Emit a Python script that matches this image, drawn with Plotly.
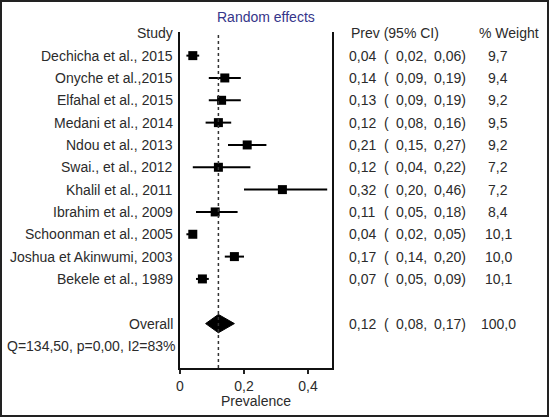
import plotly.graph_objects as go

studies = ["Dechicha et al., 2015", "Onyche et al.,2015", "Elfahal et al., 2015",
           "Medani et al., 2014", "Ndou et al., 2013", "Swai., et al., 2012",
           "Khalil et al., 2011", "Ibrahim et al., 2009", "Schoonman et al., 2005",
           "Joshua et Akinwumi, 2003", "Bekele et al., 1989"]
prev = [0.04, 0.14, 0.13, 0.12, 0.21, 0.12, 0.32, 0.11, 0.04, 0.17, 0.07]
lower = [0.02, 0.09, 0.09, 0.08, 0.15, 0.04, 0.20, 0.05, 0.02, 0.14, 0.05]
upper = [0.06, 0.19, 0.19, 0.16, 0.27, 0.22, 0.46, 0.18, 0.05, 0.20, 0.09]
weight = [9.7, 9.4, 9.2, 9.5, 9.2, 7.2, 7.2, 8.4, 10.1, 10.0, 10.1]

overall_label = "Overall"
overall_prev = 0.12
overall_lower = 0.08
overall_upper = 0.17
overall_weight = 100.0
heterogeneity = "Q=134,50, p=0,00, I2=83%"
x_ticks = [0, 0.2, 0.4]

TXT = "#2b2b2b"
FONT = "Liberation Sans, Arial, sans-serif"

rows = list(range(1, len(studies) + 1))
overall_row = len(studies) + 2
het_row = overall_row + 1

def fmt(v, d=2):
    return f"{v:.{d}f}".replace(".", ",")

fig = go.Figure()

fig.add_trace(go.Scatter(
    x=prev, y=rows, mode="markers",
    marker=dict(symbol="square", size=9, color="black"),
    error_x=dict(type="data", symmetric=False,
                 array=[u - p for u, p in zip(upper, prev)],
                 arrayminus=[p - l for p, l in zip(prev, lower)],
                 thickness=2, width=0, color="black"),
    showlegend=False, hoverinfo="skip"))

h = 0.41
fig.add_trace(go.Scatter(
    x=[overall_lower, overall_prev, overall_upper, overall_prev, overall_lower],
    y=[overall_row, overall_row - h, overall_row, overall_row + h, overall_row],
    mode="lines", fill="toself", fillcolor="black",
    line=dict(color="black", width=1), showlegend=False, hoverinfo="skip"))

# Plot area geometry (pixels): x 180..332, y 32..368
L, R, T, B = 180, 332, 32, 368
W, H = R - L, B - T

def px(p):
    return (p - L) / W

def py(p):
    return (B - p) / H

ann = []
def add(text, x, y, xanchor="left", yref="y", color=TXT, size=14):
    ann.append(dict(text=text, x=x, y=y, xref="paper", yref=yref,
                    xanchor=xanchor, yanchor="middle", showarrow=False,
                    font=dict(family=FONT, size=size, color=color)))

add("Random effects", px(266), py(17.3), "center", yref="paper", color="#35358a")
add("Study", px(175), 0, "right")
add("Prev (95% CI)", px(349), 0, "left")
add("% Weight", px(477), 0, "left")

for i, r in enumerate(rows):
    add(studies[i], px(175), r, "right")
    add(fmt(prev[i]), px(347), r)
    add("(", px(382), r)
    add(fmt(lower[i]) + ",", px(394), r)
    add(fmt(upper[i]) + ")", px(432), r)
    add(fmt(weight[i], 1), px(498), r, "center")

add(overall_label, px(175), overall_row, "right")
add(fmt(overall_prev), px(347), overall_row)
add("(", px(382), overall_row)
add(fmt(overall_lower) + ",", px(394), overall_row)
add(fmt(overall_upper) + ")", px(432), overall_row)
add(fmt(overall_weight, 1), px(498), overall_row, "center")
add(heterogeneity, px(178), het_row, "right")
add("Prevalence", px(256), py(401), "center", yref="paper")

row_px = 22.33
y_top = (T - 33.3) / row_px
y_bot = (B - 33.3) / row_px

shapes = [
    dict(type="line", xref="x", yref="paper", x0=overall_prev, x1=overall_prev,
         y0=0, y1=1, line=dict(color="#333", width=1.5, dash="dot")),
    dict(type="rect", xref="paper", yref="paper",
         x0=px(1), x1=px(548), y0=py(416), y1=py(1),
         line=dict(color="#222", width=2), layer="above"),
]

fig.update_layout(
    width=549, height=417,
    margin=dict(l=L, r=549 - R, t=T, b=417 - B, pad=0),
    paper_bgcolor="white", plot_bgcolor="white",
    separators=",.",
    font=dict(family=FONT, size=14, color=TXT),
    xaxis=dict(range=[0, W / 320], tickvals=x_ticks, ticks="outside", ticklen=4,
               tickwidth=1.5, tickcolor="#222", showgrid=False, zeroline=False,
               showline=True, linecolor="#111", linewidth=2,
               tickfont=dict(family=FONT, size=14, color=TXT)),
    yaxis=dict(range=[y_bot, y_top], showticklabels=False, ticks="",
               showgrid=False, zeroline=False, showline=True, mirror=True,
               linecolor="#111", linewidth=2),
    annotations=ann, shapes=shapes,
)

fig.write_html("out.html", config={"displayModeBar": False, "staticPlot": True},
               post_script="document.body.style.margin='0px';document.body.style.overflow='hidden';")
